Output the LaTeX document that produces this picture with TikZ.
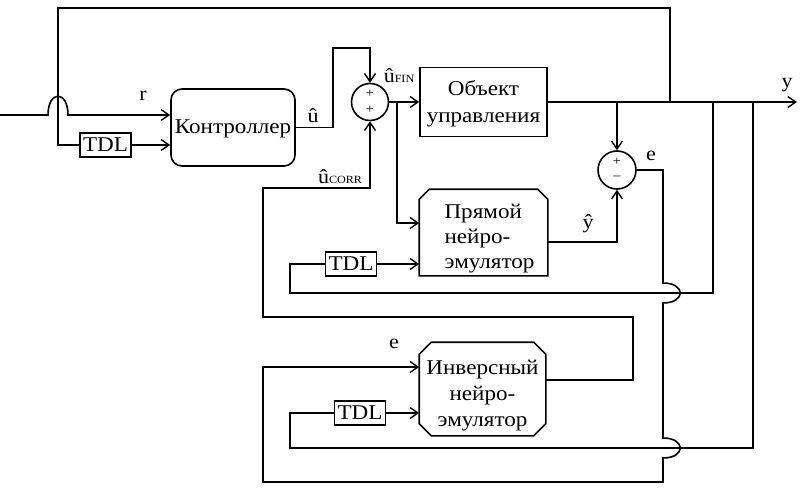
\documentclass[tikz,border=0pt]{standalone}
\usepackage{fontspec}
\setmainfont[FakeStretch=1.1]{Liberation Serif}
\usetikzlibrary{arrows.meta,calc}
\begin{document}
\begin{tikzpicture}[x=1pt,y=-1pt,
  line width=1.6pt, line join=miter,
  arr/.style={-{Straight Barb[length=8pt,width=11pt,line width=1.4pt]}},
  blk/.style={font=\fontsize{21}{25}\selectfont,align=center,inner sep=0pt},
  tdlbox/.style={draw,line width=1.3pt,font=\fontsize{21}{21}\selectfont,minimum width=51pt,minimum height=24pt,inner sep=1pt},
  sumc/.style={draw,circle,minimum size=37pt,inner sep=0pt},
  lbl/.style={font=\fontsize{20}{20}\selectfont,inner sep=0pt},
  sgn/.style={font=\fontsize{13}{13}\selectfont,inner sep=0pt},
  sub/.style={font=\fontsize{20}{20}\selectfont,inner sep=0pt},
]
\useasboundingbox (0,0) rectangle (800,500);

% blocks
\node[blk,draw,rounded corners=11pt,minimum width=124pt,minimum height=77pt] (ctrl) at (233,127.5) {};
\node[blk] (ctrlt) at ([yshift=-1pt]ctrl.center) {Контроллер};
\node[blk,draw,minimum width=127pt,minimum height=69pt] (obj) at (483.5,102) {};
\node[blk,font=\fontsize{21}{27}\selectfont] (objt) at ([yshift=-2pt]obj.center) {Объект\\управления};
\node[blk,minimum width=127pt,minimum height=85pt] (fwd) at (483.5,232.5) {};
\node[blk,align=left] (fwdt) at ([xshift=6pt,yshift=-6pt]fwd.center) {Прямой\\нейро-\\эмулятор};
\draw ([yshift=-10pt]fwd.north west) -- ([xshift=10pt]fwd.north west) -- ([xshift=-10pt]fwd.north east) -- ([yshift=-10pt]fwd.north east) -- (fwd.south east) -- (fwd.south west) -- cycle;
\node[blk,minimum width=125pt,minimum height=92pt] (inv) at (482.5,389) {};
\node[blk,font=\fontsize{21}{26}\selectfont] (invt) at ([yshift=-7pt]inv.center) {Инверсный\\нейро-\\эмулятор};
\draw ([yshift=-12pt]inv.north west) -- ([xshift=12pt]inv.north west) -- ([xshift=-12pt]inv.north east) -- ([yshift=-12pt]inv.north east) -- ([yshift=12pt]inv.south east) -- ([xshift=-12pt]inv.south east) -- ([xshift=12pt]inv.south west) -- ([yshift=12pt]inv.south west) -- cycle;

\node[sumc] (sum1) at (370,102) {};
\node[sgn] (s1a) at ([yshift=8pt]sum1.center) {+};
\node[sgn] (s1b) at ([yshift=-8pt]sum1.center) {+};
\node[sumc,minimum size=38pt] (sum2) at (617,170) {};
\node[sgn] (s2a) at ([yshift=8pt]sum2.center) {+};
\node[sgn] (s2b) at ([yshift=-8pt]sum2.center) {–};

\node[tdlbox] (tdl1) at (105.5,145) {TDL};
\node[tdlbox] (tdl2) at (351,264) {TDL};
\node[tdlbox] (tdl3) at (360,413) {TDL};

% labels
\node[lbl] (lr) at (143,96) {r};
\node[lbl] (lu) at (313,116) {û};
\node[sub] (lfin) at (399,76) {û\fontsize{11}{11}\selectfont FIN};
\node[sub] (lcorr) at (340,177) {û\fontsize{11}{11}\selectfont CORR};
\node[lbl] (ly) at (787,85) {y};
\node[lbl] (lyh) at (588,224) {ŷ};
\node[lbl] (le1) at (651,156) {e};
\node[lbl] (le2) at (394,344) {e};

% coordinates
\coordinate (in) at (0,115);
\coordinate (h1a) at (48,115);
\coordinate (h1b) at (68,115);
\coordinate (tl) at (58,8);
\coordinate (jt) at (670,102);
\coordinate (c1) at (333,48);
\coordinate (b1) at (397,102);
\coordinate (yend) at (797,102);
\coordinate (j2) at (617,102);
\coordinate (j3) at (713,102);
\coordinate (j4) at (753,102);
\coordinate (ex) at (663,170);

% input r
\draw[arr] (in) -- (h1a) .. controls (48,90) and (68,90) .. (h1b) -- (ctrl.west |- in);
% top feedback to TDL1
\draw (jt) |- (tl) -- (tl |- tdl1) -- (tdl1.west);
\draw[arr] (tdl1.east) -- (tdl1.east -| ctrl.west);
% controller out
\draw[arr] (ctrl.east) -| (c1) -| (sum1.north);
% sum1 to object
\draw[arr] (sum1.east) -- (obj.west |- sum1.east);
% branch to forward emulator
\draw[arr] (b1) |- ($(fwd.west)+(0,-9.5)$);
% output y
\draw[arr] (obj.east) -- (yend);
% into sum2
\draw[arr] (j2) -- (sum2.north);
% y-hat
\draw[arr] ($(fwd.east)+(0,9.5)$) -| (sum2.south);
% e path
\draw[arr] (sum2.east) -- (ex) -- (663,283) .. controls (686,283) and (686,303) .. (663,303) -- (663,438) .. controls (686,438) and (686,458) .. (663,458) -- (663,482) -- (263,482) -- (263,367) -- (inv.west |- 0,367);
% forward TDL loop
\draw (j3) -- (713,293) -- (290,293) -- (290,264) -- (tdl2.west);
\draw[arr] (tdl2.east) -- (fwd.west |- tdl2);
% inverse TDL loop
\draw (j4) -- (753,448) -- (290,448) -- (290,413) -- (tdl3.west);
\draw[arr] (tdl3.east) -- (inv.west |- tdl3);
% u_corr
\draw[arr] ($(inv.east)+(0,-9)$) -- (633,380) -- (633,317) -- (263,317) -- (263,188) -- (370,188) -- (sum1.south);
\end{tikzpicture}
\end{document}
